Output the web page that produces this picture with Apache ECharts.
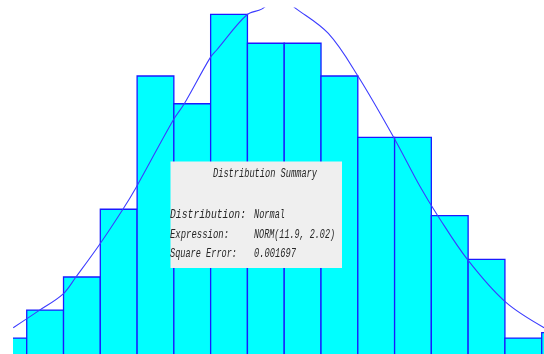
<!DOCTYPE html>
<html>
<head>
<meta charset="utf-8">
<script src="https://cdn.jsdelivr.net/npm/echarts@6/dist/echarts.min.js"></script>
<style>
  html, body { margin: 0; padding: 0; background: #ffffff; }
  #chart { width: 544px; height: 354px; }
</style>
</head>
<body>
<div id="chart"></div>
<script>
// Histogram bins (lower / upper edge) and relative frequency per bin
const binLow  = [6.857, 7.5, 8.143, 8.786, 9.429, 10.071, 10.714, 11.357, 12.0, 12.643, 13.286, 13.929, 14.571, 15.214, 15.857, 16.5];
const binHigh = [7.5, 8.143, 8.786, 9.429, 10.071, 10.714, 11.357, 12.0, 12.643, 13.286, 13.929, 14.571, 15.214, 15.857, 16.5, 17.143];
const relFreq = [0.0057, 0.0157, 0.0275, 0.0517, 0.0993, 0.0894, 0.1213, 0.1110, 0.1110, 0.0993, 0.0774, 0.0774, 0.0494, 0.0338, 0.0057, 0.0076];

// Fitted density curve, sampled points
const curveX = [7.264, 7.713, 8.133, 8.360, 8.779, 9.181, 9.414, 10.061, 10.253, 10.702, 10.820, 11.344, 11.606, 11.900, 12.218, 12.771, 13.285, 13.924, 14.374, 14.683, 15.208, 15.860, 16.542];
const curveY = [0.0094, 0.0155, 0.0214, 0.0275, 0.0393, 0.0517, 0.0596, 0.0836, 0.0894, 0.1057, 0.1086, 0.1211, 0.1232, 0.1274, 0.1232, 0.1145, 0.0994, 0.0770, 0.0598, 0.0494, 0.0336, 0.0187, 0.0094];

// Summary panel text
const summaryTitle  = 'Distribution Summary';
const summaryLabels = ['Distribution:', 'Expression:', 'Square Error:'];
const summaryValues = ['Normal', 'NORM(11.9, 2.02)', '0.001697'];

const FONT = "italic 13px 'Liberation Mono'";
const measureCtx = document.createElement('canvas').getContext('2d');
function fitScale(str, width) {
  measureCtx.font = FONT;
  return width / measureCtx.measureText(str).width;
}
function textEl(str, x, y, width) {
  return {
    type: 'text', x: x, y: y, z: 101,
    scaleX: fitScale(str, width),
    style: { text: str, font: FONT, fill: '#262626', verticalAlign: 'middle' }
  };
}

const labelRows  = [215, 235, 254];
const labelWidth = [76, 59, 67];
const valueWidth = [31, 81, 42];

const graphics = [
  { type: 'rect', z: 100, shape: { x: 170.5, y: 161.5, width: 171.5, height: 106.5 }, style: { fill: '#efefef' } },
  textEl(summaryTitle, 213, 174, 104)
];
summaryLabels.forEach((s, i) => graphics.push(textEl(s, 170, labelRows[i], labelWidth[i])));
summaryValues.forEach((s, i) => graphics.push(textEl(s, 254, labelRows[i], valueWidth[i])));

const chart = echarts.init(document.getElementById('chart'), null, { renderer: 'canvas' });
chart.setOption({
  animation: false,
  backgroundColor: '#ffffff',
  grid: { left: 13, right: 0, top: 8, bottom: 0 },
  xAxis: { type: 'value', min: 7.26, max: 16.54, show: false },
  yAxis: { type: 'value', min: 0, max: 0.1236, show: false },
  series: [
    {
      type: 'custom',
      clip: true,
      z: 2,
      encode: { x: [0, 1], y: 2 },
      data: binLow.map((lo, i) => [lo, binHigh[i], relFreq[i]]),
      renderItem: function (params, api) {
        const a = api.coord([api.value(0), api.value(2)]);
        const b = api.coord([api.value(1), 0]);
        return {
          type: 'rect',
          shape: { x: a[0], y: a[1], width: b[0] - a[0], height: b[1] - a[1] + 3 },
          style: { fill: '#00ffff', stroke: '#1a1aff', lineWidth: 1.3 }
        };
      }
    },
    {
      type: 'line',
      z: 3,
      data: curveX.map((x, i) => [x, curveY[i]]),
      showSymbol: false,
      smooth: 0.35,
      clip: true,
      lineStyle: { color: '#3c3cff', width: 1.1 }
    }
  ],
  graphic: graphics
});
</script>
</body>
</html>
